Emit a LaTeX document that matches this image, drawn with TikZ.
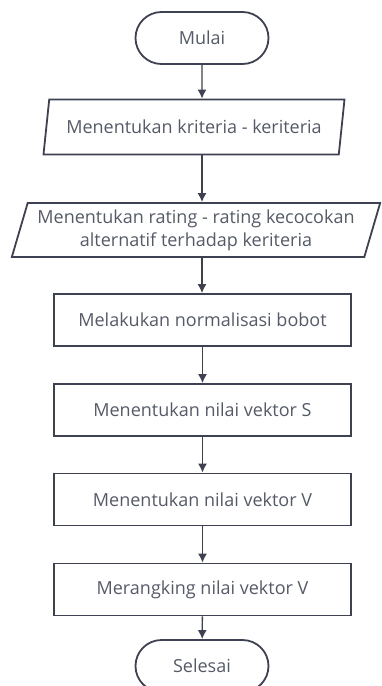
\documentclass[tikz,border=0pt]{standalone}
\usepackage{fontspec}
\setmainfont{Open Sans}
\usetikzlibrary{shapes.geometric, shapes.misc, arrows.meta}
\definecolor{garis}{HTML}{3E4152}
\definecolor{teks}{HTML}{555A69}

\begin{document}
\begin{tikzpicture}[x=1pt, y=-1pt,
   font=\fontsize{18}{23}\selectfont, text=teks,
   mulaiselesai/.style={draw=garis, line width=1.8pt, rounded rectangle,
      minimum width=133pt, minimum height=52pt, inner sep=0pt},
   masukan/.style={draw=garis, line width=1.8pt, trapezium,
      trapezium left angle=70, trapezium right angle=110,
      trapezium stretches=true, inner sep=0pt, align=center},
   proses/.style={draw=garis, line width=1.8pt, rectangle,
      minimum width=297pt, minimum height=52pt, inner sep=0pt},
   panah/.style={draw=garis, line width=1.4pt, -{Latex[length=9pt, width=9pt]}}]
   \path[use as bounding box, clip] (0,0) rectangle (382,686);
         \node[mulaiselesai] (A) at (202,38) {Mulai};
         \node[masukan, minimum width=302pt, minimum height=55pt] (B) at (194,127) {Menentukan kriteria - keriteria};
         \node[masukan, minimum width=370pt, minimum height=54pt] (C) at (196,230) {Menentukan rating - rating kecocokan\\alternatif terhadap keriteria};
         \node[proses] (D) at (202.5,320) {Melakukan normalisasi bobot};
         \node[proses] (E) at (202.5,410) {Menentukan nilai vektor S};
         \node[proses] (F) at (202.5,499.5) {Menentukan nilai vektor V};
         \node[proses] (G) at (202.5,589.5) {Merangking nilai vektor V};
         \node[mulaiselesai] (H) at (202,666) {Selesai};
         \draw[panah] (A) -- (A |- B.north);
         \draw[panah] (B.south -| A) -- (A |- C.north);
         \draw[panah] (C.south -| A) -- (A |- D.north);
         \draw[panah] (D) -- (E);
         \draw[panah] (E) -- (F);
         \draw[panah] (F) -- (G);
         \draw[panah] (G) -- (H);
      \end{tikzpicture}
\end{document}
